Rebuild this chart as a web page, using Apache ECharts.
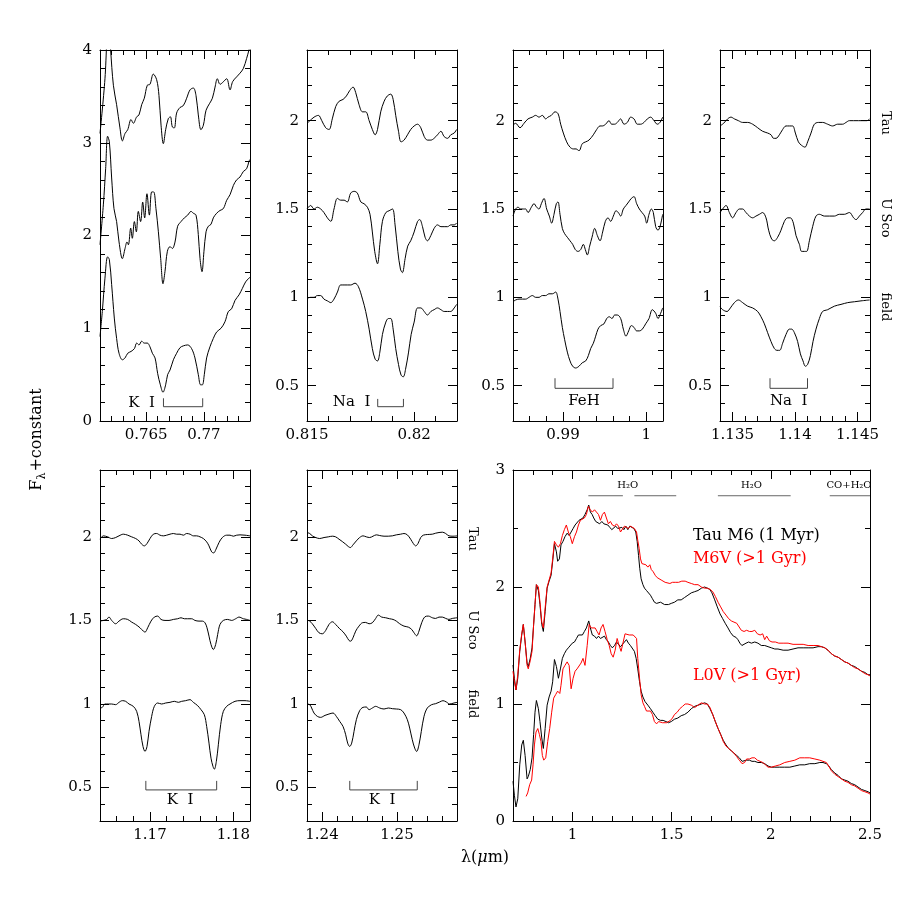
<!DOCTYPE html>
<html>
<head>
<meta charset="utf-8">
<title>M6 / L0 spectra</title>
<script src="https://cdn.jsdelivr.net/npm/echarts@6/dist/echarts.min.js"></script>
<style>
  html, body { margin: 0; padding: 0; background: #fff; }
  #chart { width: 919px; height: 919px; }
</style>
</head>
<body>
<div id="chart"></div>
<script>
// --- panel 1: K I 0.77 um ---
var p1XTicks = [0.765, 0.77];
var p1YTicks = [0, 1, 2, 3, 4];
var p1Tau = [[0.76100,3.10],[0.76143,3.69],[0.76172,4.35],[0.76192,4.0],[0.76216,3.62],[0.76244,3.41],[0.76273,3.16],[0.76294,3.02],[0.76317,3.10],[0.76340,3.14],[0.76369,3.25],[0.76389,3.21],[0.76418,3.28],[0.76438,3.30],[0.76461,3.41],[0.76484,3.48],[0.76510,3.62],[0.76533,3.63],[0.76562,3.74],[0.76591,3.68],[0.76611,3.51],[0.76629,3.19],[0.76649,2.99],[0.76669,3.14],[0.76692,3.26],[0.76710,3.28],[0.76727,3.17],[0.76744,3.16],[0.76764,3.32],[0.76793,3.38],[0.76822,3.40],[0.76851,3.48],[0.76880,3.57],[0.76909,3.59],[0.76932,3.51],[0.76952,3.30],[0.76975,3.14],[0.76996,3.19],[0.77019,3.35],[0.77048,3.42],[0.77074,3.48],[0.77097,3.60],[0.77117,3.69],[0.77140,3.63],[0.77163,3.65],[0.77198,3.69],[0.77227,3.57],[0.77250,3.66],[0.77284,3.71],[0.77313,3.75],[0.77342,3.80],[0.77371,3.91],[0.77391,4.0],[0.774,4.05]];
var p1USco = [[0.76100,1.90],[0.76129,2.33],[0.76149,2.72],[0.76166,3.07],[0.76181,3.01],[0.76201,2.62],[0.76221,2.29],[0.76244,2.15],[0.76265,1.93],[0.76294,1.75],[0.76317,1.86],[0.76334,1.93],[0.76346,1.90],[0.76366,2.08],[0.76380,1.97],[0.76398,2.15],[0.76415,2.04],[0.76432,2.26],[0.76452,2.15],[0.76470,2.36],[0.76487,2.19],[0.76507,2.45],[0.76528,2.22],[0.76548,2.47],[0.76565,2.47],[0.76585,2.29],[0.76606,2.04],[0.76626,1.75],[0.76646,1.48],[0.76663,1.61],[0.76684,1.83],[0.76707,1.88],[0.76727,1.86],[0.76750,1.93],[0.76773,2.10],[0.76802,2.15],[0.76831,2.19],[0.76860,2.22],[0.76889,2.26],[0.76909,2.24],[0.76932,2.22],[0.76952,2.01],[0.76967,1.75],[0.76984,1.61],[0.77001,1.83],[0.77019,2.04],[0.77039,2.10],[0.77062,2.12],[0.77082,2.19],[0.77111,2.24],[0.77140,2.27],[0.77169,2.29],[0.77198,2.38],[0.77227,2.44],[0.77256,2.54],[0.77284,2.60],[0.77313,2.63],[0.77342,2.69],[0.77371,2.72],[0.77391,2.80],[0.774,2.82]];
var p1Field = [[0.76100,0.91],[0.76120,1.18],[0.76143,1.54],[0.76166,1.77],[0.76181,1.74],[0.76201,1.47],[0.76224,1.11],[0.76244,0.89],[0.76265,0.73],[0.76294,0.66],[0.76317,0.68],[0.76340,0.73],[0.76369,0.75],[0.76398,0.78],[0.76418,0.84],[0.76438,0.82],[0.76461,0.86],[0.76484,0.84],[0.76510,0.84],[0.76533,0.80],[0.76554,0.73],[0.76577,0.68],[0.76600,0.51],[0.76623,0.39],[0.76646,0.31],[0.76669,0.39],[0.76686,0.50],[0.76707,0.55],[0.76736,0.66],[0.76764,0.73],[0.76793,0.79],[0.76822,0.81],[0.76860,0.82],[0.76894,0.78],[0.76923,0.68],[0.76952,0.50],[0.76972,0.39],[0.76987,0.39],[0.77004,0.50],[0.77024,0.68],[0.77053,0.80],[0.77082,0.89],[0.77111,0.96],[0.77149,1.00],[0.77183,1.07],[0.77212,1.18],[0.77241,1.21],[0.77270,1.30],[0.77305,1.36],[0.77334,1.43],[0.77362,1.50],[0.77391,1.54],[0.774,1.55]];

// --- panel 2: Na I 0.82 um ---
var p2XTicks = [0.815, 0.82];
var p2Tau = [[0.81500,1.985],[0.81512,1.998],[0.81533,2.02],[0.81553,2.03],[0.81569,2.0],[0.81587,1.96],[0.81603,1.95],[0.81618,2.01],[0.81634,2.08],[0.81650,2.11],[0.81668,2.12],[0.81684,2.14],[0.81699,2.17],[0.81715,2.19],[0.81727,2.16],[0.81743,2.09],[0.81759,2.05],[0.81774,2.05],[0.81790,2.0],[0.81805,1.95],[0.81818,1.92],[0.81829,1.95],[0.81844,2.05],[0.81860,2.11],[0.81875,2.14],[0.81891,2.15],[0.81902,2.12],[0.81914,2.03],[0.81927,1.94],[0.81939,1.88],[0.81953,1.89],[0.81969,1.92],[0.81984,1.95],[0.82000,1.97],[0.82016,1.98],[0.82031,1.96],[0.82047,1.91],[0.82062,1.89],[0.82078,1.89],[0.82093,1.90],[0.82109,1.92],[0.82125,1.94],[0.82140,1.91],[0.82156,1.90],[0.82171,1.92],[0.82187,1.93],[0.82198,1.95]];
var p2USco = [[0.81500,1.50],[0.81517,1.52],[0.81533,1.50],[0.81548,1.51],[0.81564,1.50],[0.81579,1.48],[0.81595,1.45],[0.81611,1.43],[0.81626,1.50],[0.81642,1.56],[0.81657,1.55],[0.81673,1.55],[0.81688,1.54],[0.81704,1.59],[0.81720,1.60],[0.81735,1.59],[0.81751,1.54],[0.81766,1.53],[0.81782,1.51],[0.81794,1.47],[0.81805,1.37],[0.81816,1.26],[0.81829,1.19],[0.81840,1.30],[0.81852,1.43],[0.81868,1.48],[0.81883,1.49],[0.81899,1.50],[0.81911,1.41],[0.81924,1.26],[0.81936,1.16],[0.81945,1.14],[0.81958,1.22],[0.81970,1.29],[0.81984,1.32],[0.82000,1.37],[0.82016,1.43],[0.82026,1.44],[0.82039,1.40],[0.82051,1.34],[0.82062,1.32],[0.82078,1.35],[0.82093,1.39],[0.82109,1.41],[0.82125,1.40],[0.82140,1.40],[0.82156,1.40],[0.82171,1.41],[0.82187,1.41],[0.82198,1.42]];
var p2Field = [[0.81500,0.994],[0.81517,1.0],[0.81533,1.0],[0.81548,1.01],[0.81564,1.01],[0.81579,0.99],[0.81595,0.98],[0.81611,0.97],[0.81626,0.99],[0.81642,1.03],[0.81657,1.07],[0.81673,1.07],[0.81688,1.07],[0.81704,1.07],[0.81724,1.08],[0.81740,1.06],[0.81759,0.99],[0.81774,0.92],[0.81790,0.82],[0.81805,0.71],[0.81818,0.65],[0.81829,0.64],[0.81840,0.69],[0.81852,0.79],[0.81868,0.86],[0.81880,0.88],[0.81891,0.88],[0.81902,0.82],[0.81914,0.71],[0.81927,0.62],[0.81939,0.56],[0.81949,0.55],[0.81961,0.60],[0.81974,0.69],[0.81986,0.79],[0.82000,0.86],[0.82016,0.94],[0.82031,0.94],[0.82047,0.92],[0.82062,0.90],[0.82078,0.92],[0.82093,0.93],[0.82109,0.94],[0.82125,0.93],[0.82140,0.92],[0.82156,0.92],[0.82171,0.92],[0.82187,0.94],[0.82198,0.96]];

// --- panel 3: FeH 0.99 um ---
var p3XTicks = [0.99, 1];
var p3Tau = [[0.98400,1.975],[0.98432,1.985],[0.98484,1.96],[0.98532,1.985],[0.98580,2.01],[0.98632,2.02],[0.98672,2.03],[0.98712,2.02],[0.98752,2.03],[0.98792,2.01],[0.98820,2.02],[0.98860,2.03],[0.98904,2.05],[0.98940,2.04],[0.98972,1.98],[0.99004,1.93],[0.99044,1.88],[0.99084,1.85],[0.99124,1.84],[0.99156,1.84],[0.99192,1.83],[0.99232,1.87],[0.99272,1.88],[0.99312,1.89],[0.99364,1.92],[0.99404,1.95],[0.99444,1.97],[0.99472,1.97],[0.99512,1.98],[0.99552,2.00],[0.99584,1.98],[0.99620,1.98],[0.99652,1.99],[0.99692,2.01],[0.99732,1.98],[0.99772,1.99],[0.99812,2.02],[0.99852,2.01],[0.99892,1.98],[0.99932,1.98],[0.99972,1.99],[1.00012,2.01],[1.00052,2.02],[1.00092,2.0],[1.00132,1.98],[1.00164,1.99],[1.00196,2.02]];
var p3USco = [[0.98400,1.46],[0.98432,1.50],[0.98460,1.51],[0.98492,1.50],[0.98524,1.50],[0.98552,1.50],[0.98580,1.48],[0.98620,1.51],[0.98652,1.53],[0.98684,1.51],[0.98712,1.50],[0.98740,1.53],[0.98772,1.56],[0.98804,1.50],[0.98836,1.46],[0.98864,1.42],[0.98892,1.47],[0.98920,1.53],[0.98940,1.54],[0.98964,1.47],[0.98992,1.39],[0.99020,1.36],[0.99052,1.34],[0.99084,1.32],[0.99116,1.30],[0.99148,1.27],[0.99180,1.26],[0.99212,1.27],[0.99244,1.30],[0.99268,1.27],[0.99292,1.24],[0.99320,1.29],[0.99348,1.34],[0.99380,1.39],[0.99412,1.35],[0.99444,1.32],[0.99476,1.37],[0.99508,1.43],[0.99540,1.45],[0.99572,1.43],[0.99604,1.46],[0.99636,1.49],[0.99664,1.48],[0.99692,1.46],[0.99724,1.50],[0.99756,1.52],[0.99788,1.54],[0.99820,1.56],[0.99852,1.57],[0.99884,1.53],[0.99916,1.50],[0.99948,1.48],[0.99980,1.46],[1.00004,1.42],[1.00032,1.47],[1.00060,1.50],[1.00084,1.48],[1.00112,1.40],[1.00140,1.38],[1.00164,1.40],[1.00196,1.47]];
var p3Field = [[0.98400,0.975],[0.98432,0.985],[0.98472,0.99],[0.98512,0.99],[0.98552,0.99],[0.98592,1.00],[0.98632,1.01],[0.98672,1.00],[0.98712,1.00],[0.98752,1.01],[0.98792,1.01],[0.98832,1.02],[0.98872,1.02],[0.98912,1.03],[0.98940,0.99],[0.98964,0.92],[0.98992,0.83],[0.99020,0.76],[0.99052,0.69],[0.99084,0.64],[0.99116,0.61],[0.99152,0.60],[0.99192,0.61],[0.99232,0.63],[0.99272,0.64],[0.99304,0.67],[0.99332,0.71],[0.99364,0.74],[0.99392,0.78],[0.99420,0.82],[0.99452,0.84],[0.99492,0.85],[0.99524,0.88],[0.99556,0.89],[0.99588,0.88],[0.99620,0.90],[0.99652,0.90],[0.99692,0.88],[0.99724,0.82],[0.99756,0.78],[0.99788,0.81],[0.99820,0.84],[0.99852,0.83],[0.99884,0.81],[0.99916,0.81],[0.99952,0.82],[0.99992,0.85],[1.00032,0.88],[1.00072,0.93],[1.00112,0.91],[1.00140,0.88],[1.00172,0.91],[1.00196,0.94]];

// --- panel 4: Na I 1.14 um ---
var p4XTicks = [1.135, 1.14, 1.145];
var p4Tau = [[1.13400,1.97],[1.13429,1.985],[1.13461,2.01],[1.13488,2.02],[1.13515,2.01],[1.13547,2.0],[1.13581,1.99],[1.13621,1.99],[1.13661,1.98],[1.13701,1.96],[1.13741,1.94],[1.13781,1.93],[1.13808,1.92],[1.13829,1.90],[1.13848,1.90],[1.13875,1.92],[1.13901,1.95],[1.13928,1.97],[1.13955,1.97],[1.13981,1.97],[1.14003,1.93],[1.14027,1.88],[1.14053,1.86],[1.14080,1.85],[1.14101,1.88],[1.14128,1.93],[1.14155,1.98],[1.14187,1.99],[1.14221,1.99],[1.14261,1.98],[1.14301,1.97],[1.14341,1.98],[1.14381,1.98],[1.14408,1.99],[1.14435,2.0],[1.14469,2.0],[1.14507,2.0],[1.14541,2.0],[1.14576,2.0],[1.14597,2.01]];
var p4USco = [[1.13400,1.48],[1.13421,1.50],[1.13448,1.52],[1.13475,1.48],[1.13501,1.45],[1.13528,1.48],[1.13555,1.50],[1.13581,1.50],[1.13608,1.48],[1.13635,1.46],[1.13661,1.45],[1.13688,1.46],[1.13715,1.47],[1.13741,1.48],[1.13768,1.45],[1.13789,1.38],[1.13813,1.33],[1.13835,1.32],[1.13861,1.34],[1.13888,1.38],[1.13915,1.43],[1.13941,1.45],[1.13963,1.45],[1.13987,1.42],[1.14008,1.35],[1.14035,1.30],[1.14053,1.26],[1.14075,1.26],[1.14093,1.26],[1.14115,1.32],[1.14141,1.40],[1.14168,1.46],[1.14195,1.47],[1.14235,1.46],[1.14275,1.46],[1.14315,1.46],[1.14355,1.47],[1.14395,1.47],[1.14435,1.48],[1.14469,1.45],[1.14488,1.44],[1.14515,1.46],[1.14541,1.48],[1.14568,1.50],[1.14597,1.50]];
var p4Field = [[1.13400,0.947],[1.13421,0.93],[1.13456,0.92],[1.13483,0.94],[1.13515,0.97],[1.13547,0.985],[1.13581,0.97],[1.13621,0.95],[1.13661,0.94],[1.13701,0.92],[1.13728,0.89],[1.13755,0.85],[1.13781,0.80],[1.13808,0.75],[1.13835,0.71],[1.13856,0.70],[1.13877,0.70],[1.13901,0.74],[1.13928,0.79],[1.13955,0.82],[1.13973,0.82],[1.13995,0.80],[1.14021,0.75],[1.14043,0.68],[1.14064,0.64],[1.14083,0.61],[1.14101,0.62],[1.14123,0.67],[1.14144,0.75],[1.14168,0.82],[1.14195,0.88],[1.14221,0.92],[1.14261,0.93],[1.14315,0.95],[1.14368,0.96],[1.14421,0.97],[1.14475,0.975],[1.14528,0.98],[1.14597,0.985]];

// --- panel 5: K I 1.17 um ---
var p5XTicks = [1.17, 1.18];
var p5Tau = [[1.16400,1.986],[1.16440,2.006],[1.16492,2.0],[1.16540,1.99],[1.16588,1.996],[1.16628,2.006],[1.16680,2.016],[1.16732,2.01],[1.16780,2.0],[1.16828,1.99],[1.16868,1.976],[1.16900,1.956],[1.16932,1.946],[1.16964,1.96],[1.17000,1.99],[1.17040,2.016],[1.17080,2.02],[1.17120,2.01],[1.17160,2.006],[1.17200,2.01],[1.17240,2.016],[1.17280,2.02],[1.17320,2.016],[1.17360,2.016],[1.17400,2.01],[1.17440,2.02],[1.17480,2.016],[1.17520,2.006],[1.17560,2.006],[1.17600,2.0],[1.17640,1.99],[1.17680,1.97],[1.17708,1.946],[1.17740,1.91],[1.17764,1.904],[1.17792,1.926],[1.17828,1.966],[1.17868,1.996],[1.17920,2.01],[1.17960,2.01],[1.18000,2.004],[1.18040,2.01],[1.18080,2.012],[1.18140,2.01],[1.18200,2.006]];
var p5USco = [[1.16400,1.496],[1.16440,1.50],[1.16480,1.506],[1.16508,1.52],[1.16540,1.50],[1.16588,1.48],[1.16628,1.496],[1.16680,1.51],[1.16732,1.506],[1.16780,1.49],[1.16828,1.476],[1.16880,1.456],[1.16920,1.436],[1.16940,1.43],[1.16972,1.456],[1.17012,1.496],[1.17052,1.52],[1.17092,1.526],[1.17132,1.506],[1.17180,1.50],[1.17228,1.50],[1.17280,1.506],[1.17332,1.51],[1.17372,1.516],[1.17412,1.51],[1.17452,1.51],[1.17500,1.51],[1.17540,1.50],[1.17588,1.496],[1.17628,1.496],[1.17660,1.486],[1.17684,1.456],[1.17708,1.406],[1.17732,1.356],[1.17760,1.326],[1.17788,1.356],[1.17812,1.416],[1.17840,1.476],[1.17880,1.50],[1.17932,1.506],[1.17980,1.50],[1.18028,1.51],[1.18068,1.52],[1.18120,1.51],[1.18160,1.506],[1.18200,1.50]];
var p5Field = [[1.16400,0.976],[1.16428,0.98],[1.16460,1.0],[1.16500,1.0],[1.16540,1.0],[1.16588,0.996],[1.16628,1.01],[1.16668,1.02],[1.16708,1.016],[1.16748,1.0],[1.16800,0.986],[1.16840,0.956],[1.16868,0.896],[1.16892,0.816],[1.16916,0.746],[1.16940,0.716],[1.16964,0.746],[1.16988,0.836],[1.17020,0.926],[1.17052,0.986],[1.17092,1.006],[1.17140,1.0],[1.17188,1.006],[1.17240,1.01],[1.17292,1.016],[1.17340,1.01],[1.17380,1.016],[1.17428,1.02],[1.17480,1.026],[1.17520,1.01],[1.17572,0.99],[1.17612,0.966],[1.17652,0.936],[1.17680,0.866],[1.17708,0.766],[1.17732,0.676],[1.17756,0.626],[1.17772,0.61],[1.17796,0.656],[1.17820,0.756],[1.17848,0.876],[1.17880,0.956],[1.17920,0.986],[1.17960,1.0],[1.18020,1.016],[1.18080,1.02],[1.18140,1.02],[1.18200,1.016]];

// --- panel 6: K I 1.25 um ---
var p6XTicks = [1.24, 1.25];
var p6Tau = [[1.23800,2.026],[1.23836,2.02],[1.23871,2.006],[1.23916,1.996],[1.23969,1.99],[1.24027,1.996],[1.24084,2.0],[1.24138,2.004],[1.24182,2.0],[1.24227,1.986],[1.24271,1.972],[1.24316,1.956],[1.24351,1.942],[1.24378,1.936],[1.24413,1.952],[1.24458,1.976],[1.24502,1.996],[1.24547,2.006],[1.24591,2.0],[1.24636,1.996],[1.24680,2.004],[1.24724,2.012],[1.24769,2.008],[1.24827,2.004],[1.24884,2.004],[1.24938,2.006],[1.24991,2.012],[1.25049,2.016],[1.25093,2.02],[1.25138,2.012],[1.25182,1.986],[1.25218,1.96],[1.25249,1.946],[1.25280,1.96],[1.25316,1.996],[1.25351,2.01],[1.25404,2.014],[1.25471,2.016],[1.25516,2.022],[1.25560,2.026],[1.25604,2.028],[1.25649,2.02],[1.25693,2.006],[1.25747,2.004],[1.25804,2.006]];
var p6USco = [[1.23800,1.502],[1.23836,1.496],[1.23871,1.48],[1.23916,1.452],[1.23960,1.426],[1.24004,1.42],[1.24049,1.44],[1.24093,1.476],[1.24138,1.492],[1.24182,1.476],[1.24236,1.45],[1.24280,1.432],[1.24324,1.406],[1.24360,1.38],[1.24382,1.376],[1.24413,1.396],[1.24449,1.436],[1.24493,1.466],[1.24538,1.486],[1.24582,1.488],[1.24627,1.48],[1.24671,1.486],[1.24716,1.512],[1.24751,1.532],[1.24796,1.52],[1.24849,1.516],[1.24902,1.51],[1.24947,1.506],[1.24991,1.496],[1.25036,1.48],[1.25093,1.466],[1.25151,1.46],[1.25196,1.446],[1.25227,1.426],[1.25262,1.408],[1.25293,1.436],[1.25329,1.486],[1.25373,1.522],[1.25418,1.526],[1.25471,1.516],[1.25516,1.512],[1.25560,1.52],[1.25604,1.52],[1.25649,1.512],[1.25693,1.506],[1.25738,1.512],[1.25804,1.516]];
var p6Field = [[1.23800,1.0],[1.23836,0.996],[1.23862,0.976],[1.23893,0.946],[1.23938,0.926],[1.23982,0.92],[1.24040,0.932],[1.24093,0.94],[1.24147,0.946],[1.24191,0.926],[1.24236,0.896],[1.24280,0.866],[1.24316,0.816],[1.24342,0.766],[1.24369,0.746],[1.24396,0.766],[1.24427,0.836],[1.24458,0.906],[1.24502,0.96],[1.24547,0.98],[1.24591,0.982],[1.24627,0.966],[1.24671,0.976],[1.24716,0.986],[1.24769,0.976],[1.24827,0.97],[1.24884,0.976],[1.24938,0.972],[1.24991,0.97],[1.25049,0.966],[1.25093,0.946],[1.25138,0.906],[1.25169,0.856],[1.25204,0.786],[1.25236,0.736],[1.25262,0.716],[1.25293,0.756],[1.25324,0.836],[1.25360,0.926],[1.25404,0.976],[1.25462,0.996],[1.25516,1.002],[1.25569,1.012],[1.25613,1.02],[1.25658,1.012],[1.25702,1.0],[1.25760,1.006],[1.25804,1.01]];

// --- panel 7: full 0.7-2.5 um spectra ---
var p7XTicks = [1, 1.5, 2, 2.5];
var p7YTicks = [0, 1, 2, 3];
var tauM6 = [[0.700,1.333],[0.707,1.22],[0.715,1.12],[0.724,1.22],[0.734,1.45],[0.744,1.59],[0.752,1.68],[0.761,1.53],[0.771,1.35],[0.777,1.32],[0.787,1.39],[0.796,1.48],[0.804,1.68],[0.811,1.85],[0.818,2.02],[0.828,1.97],[0.836,1.85],[0.845,1.68],[0.853,1.62],[0.862,1.79],[0.872,1.99],[0.882,2.05],[0.892,2.10],[0.900,2.22],[0.909,2.37],[0.919,2.30],[0.925,2.22],[0.934,2.24],[0.942,2.36],[0.952,2.39],[0.962,2.43],[0.973,2.46],[0.983,2.44],[0.993,2.47],[1.003,2.50],[1.013,2.53],[1.023,2.54],[1.033,2.57],[1.043,2.58],[1.053,2.59],[1.063,2.62],[1.074,2.66],[1.082,2.70],[1.090,2.64],[1.099,2.62],[1.107,2.59],[1.117,2.56],[1.127,2.56],[1.137,2.54],[1.148,2.56],[1.158,2.54],[1.168,2.54],[1.178,2.53],[1.188,2.51],[1.198,2.49],[1.208,2.50],[1.218,2.52],[1.228,2.50],[1.238,2.50],[1.249,2.51],[1.259,2.49],[1.269,2.52],[1.279,2.49],[1.289,2.52],[1.299,2.53],[1.309,2.50],[1.319,2.47],[1.326,2.39],[1.333,2.27],[1.339,2.16],[1.346,2.07],[1.355,2.02],[1.363,1.99],[1.373,1.97],[1.383,1.96],[1.393,1.93],[1.403,1.90],[1.413,1.87],[1.424,1.86],[1.434,1.87],[1.444,1.87],[1.454,1.86],[1.464,1.85],[1.474,1.84],[1.484,1.85],[1.498,1.86],[1.514,1.87],[1.531,1.89],[1.548,1.89],[1.565,1.91],[1.582,1.93],[1.599,1.95],[1.616,1.96],[1.633,1.97],[1.650,1.99],[1.666,2.00],[1.680,1.99],[1.692,1.98],[1.703,1.95],[1.717,1.89],[1.730,1.83],[1.744,1.77],[1.757,1.73],[1.770,1.69],[1.784,1.65],[1.797,1.61],[1.811,1.58],[1.824,1.57],[1.834,1.55],[1.844,1.52],[1.854,1.50],[1.864,1.49],[1.875,1.52],[1.888,1.53],[1.902,1.52],[1.919,1.53],[1.935,1.52],[1.952,1.50],[1.969,1.50],[1.986,1.49],[2.003,1.48],[2.020,1.47],[2.036,1.47],[2.062,1.46],[2.087,1.46],[2.112,1.47],[2.137,1.48],[2.163,1.48],[2.188,1.48],[2.213,1.48],[2.238,1.49],[2.255,1.49],[2.272,1.48],[2.288,1.46],[2.305,1.43],[2.322,1.41],[2.339,1.40],[2.356,1.38],[2.373,1.36],[2.389,1.35],[2.406,1.33],[2.423,1.32],[2.440,1.30],[2.457,1.28],[2.474,1.27],[2.490,1.25],[2.5,1.25]];
var m6V = [[0.700,1.28],[0.707,1.19],[0.715,1.12],[0.724,1.25],[0.734,1.46],[0.744,1.60],[0.752,1.68],[0.761,1.53],[0.771,1.33],[0.777,1.30],[0.787,1.37],[0.796,1.45],[0.804,1.68],[0.811,1.85],[0.818,2.02],[0.828,2.0],[0.836,1.87],[0.845,1.70],[0.853,1.65],[0.862,1.82],[0.872,2.0],[0.882,2.06],[0.892,2.12],[0.900,2.24],[0.909,2.39],[0.919,2.36],[0.929,2.34],[0.939,2.37],[0.949,2.44],[0.959,2.49],[0.969,2.53],[0.979,2.47],[0.989,2.43],[0.999,2.37],[1.010,2.43],[1.020,2.47],[1.030,2.53],[1.040,2.57],[1.050,2.56],[1.060,2.59],[1.070,2.62],[1.080,2.69],[1.090,2.66],[1.100,2.64],[1.111,2.66],[1.121,2.64],[1.131,2.62],[1.141,2.57],[1.151,2.62],[1.161,2.64],[1.171,2.59],[1.181,2.54],[1.191,2.56],[1.201,2.53],[1.212,2.52],[1.222,2.54],[1.232,2.52],[1.242,2.47],[1.252,2.47],[1.262,2.52],[1.272,2.53],[1.282,2.50],[1.292,2.52],[1.302,2.53],[1.312,2.50],[1.323,2.47],[1.329,2.40],[1.336,2.33],[1.343,2.24],[1.350,2.20],[1.360,2.20],[1.370,2.19],[1.380,2.17],[1.390,2.19],[1.397,2.15],[1.407,2.13],[1.417,2.10],[1.427,2.08],[1.437,2.07],[1.447,2.06],[1.457,2.05],[1.467,2.04],[1.477,2.03],[1.491,2.03],[1.504,2.04],[1.518,2.04],[1.535,2.04],[1.551,2.05],[1.568,2.05],[1.582,2.04],[1.599,2.03],[1.616,2.02],[1.633,2.02],[1.650,2.0],[1.666,1.99],[1.680,1.99],[1.693,1.98],[1.707,1.96],[1.720,1.92],[1.734,1.87],[1.747,1.83],[1.760,1.79],[1.774,1.76],[1.787,1.73],[1.801,1.71],[1.814,1.70],[1.828,1.69],[1.838,1.68],[1.851,1.63],[1.865,1.62],[1.878,1.63],[1.892,1.62],[1.905,1.62],[1.919,1.63],[1.932,1.60],[1.946,1.59],[1.959,1.60],[1.969,1.55],[1.979,1.58],[1.993,1.54],[2.006,1.53],[2.023,1.53],[2.040,1.52],[2.062,1.52],[2.087,1.52],[2.112,1.51],[2.137,1.51],[2.163,1.51],[2.188,1.50],[2.213,1.50],[2.238,1.50],[2.255,1.49],[2.272,1.48],[2.288,1.46],[2.305,1.43],[2.322,1.41],[2.339,1.40],[2.356,1.38],[2.373,1.36],[2.389,1.35],[2.406,1.33],[2.423,1.31],[2.440,1.30],[2.457,1.28],[2.474,1.26],[2.490,1.25],[2.5,1.24]];
var tauL0 = [[0.700,0.34],[0.707,0.22],[0.715,0.12],[0.724,0.19],[0.734,0.48],[0.744,0.65],[0.752,0.69],[0.761,0.56],[0.771,0.36],[0.777,0.38],[0.787,0.44],[0.796,0.54],[0.804,0.74],[0.811,0.93],[0.818,1.03],[0.828,0.96],[0.836,0.85],[0.845,0.71],[0.853,0.62],[0.862,0.79],[0.872,0.99],[0.882,1.06],[0.892,1.11],[0.900,1.19],[0.909,1.38],[0.919,1.32],[0.929,1.22],[0.939,1.30],[0.949,1.39],[0.959,1.43],[0.969,1.46],[0.979,1.48],[0.989,1.49],[0.999,1.52],[1.010,1.53],[1.020,1.56],[1.030,1.59],[1.040,1.60],[1.050,1.59],[1.060,1.62],[1.070,1.65],[1.082,1.71],[1.090,1.65],[1.100,1.59],[1.111,1.58],[1.121,1.56],[1.131,1.58],[1.141,1.56],[1.151,1.56],[1.161,1.58],[1.171,1.55],[1.181,1.53],[1.191,1.50],[1.201,1.48],[1.212,1.50],[1.222,1.53],[1.232,1.52],[1.242,1.49],[1.252,1.50],[1.262,1.53],[1.272,1.55],[1.282,1.52],[1.292,1.50],[1.302,1.49],[1.312,1.45],[1.321,1.39],[1.329,1.30],[1.338,1.19],[1.346,1.11],[1.355,1.06],[1.366,1.02],[1.380,0.99],[1.393,0.96],[1.405,0.93],[1.417,0.90],[1.430,0.87],[1.444,0.86],[1.457,0.86],[1.471,0.85],[1.484,0.84],[1.498,0.85],[1.514,0.87],[1.531,0.88],[1.548,0.90],[1.565,0.91],[1.582,0.93],[1.599,0.96],[1.616,0.98],[1.633,0.99],[1.650,1.0],[1.666,1.01],[1.680,1.0],[1.693,0.96],[1.707,0.91],[1.720,0.85],[1.734,0.79],[1.747,0.74],[1.760,0.69],[1.774,0.65],[1.787,0.62],[1.801,0.60],[1.814,0.58],[1.828,0.56],[1.841,0.54],[1.855,0.51],[1.865,0.51],[1.878,0.52],[1.892,0.52],[1.905,0.51],[1.919,0.51],[1.935,0.50],[1.952,0.50],[1.969,0.49],[1.986,0.47],[2.003,0.46],[2.020,0.46],[2.045,0.46],[2.070,0.46],[2.096,0.46],[2.121,0.47],[2.146,0.48],[2.171,0.48],[2.196,0.49],[2.222,0.49],[2.247,0.50],[2.263,0.50],[2.280,0.49],[2.292,0.47],[2.305,0.44],[2.322,0.41],[2.339,0.39],[2.356,0.36],[2.373,0.35],[2.389,0.34],[2.406,0.32],[2.423,0.31],[2.440,0.29],[2.457,0.27],[2.474,0.26],[2.490,0.25],[2.5,0.24]];
var l0V = [[0.766,0.21],[0.774,0.24],[0.784,0.31],[0.794,0.35],[0.801,0.48],[0.808,0.65],[0.816,0.76],[0.825,0.79],[0.833,0.74],[0.841,0.68],[0.848,0.56],[0.855,0.52],[0.865,0.54],[0.875,0.68],[0.885,0.79],[0.895,0.93],[0.905,1.05],[0.915,1.08],[0.925,1.11],[0.936,1.09],[0.942,1.16],[0.952,1.30],[0.962,1.33],[0.973,1.36],[0.983,1.33],[0.993,1.13],[1.003,1.22],[1.013,1.28],[1.023,1.30],[1.033,1.29],[1.043,1.35],[1.053,1.39],[1.063,1.33],[1.074,1.50],[1.084,1.68],[1.094,1.65],[1.104,1.66],[1.114,1.65],[1.124,1.62],[1.134,1.59],[1.144,1.65],[1.154,1.68],[1.164,1.62],[1.175,1.55],[1.185,1.50],[1.195,1.43],[1.205,1.40],[1.215,1.46],[1.225,1.56],[1.235,1.50],[1.245,1.45],[1.255,1.46],[1.265,1.60],[1.275,1.59],[1.286,1.59],[1.296,1.59],[1.306,1.59],[1.316,1.59],[1.323,1.56],[1.329,1.39],[1.338,1.22],[1.346,1.08],[1.355,1.01],[1.363,0.98],[1.373,0.94],[1.383,0.93],[1.393,0.94],[1.403,0.91],[1.413,0.85],[1.424,0.83],[1.434,0.85],[1.444,0.85],[1.454,0.84],[1.464,0.85],[1.474,0.84],[1.484,0.85],[1.494,0.86],[1.504,0.88],[1.514,0.91],[1.528,0.93],[1.541,0.96],[1.555,0.98],[1.568,1.0],[1.582,1.0],[1.599,0.99],[1.616,0.97],[1.633,0.99],[1.650,1.01],[1.666,1.0],[1.680,1.0],[1.693,0.97],[1.707,0.91],[1.720,0.85],[1.734,0.79],[1.747,0.74],[1.760,0.68],[1.774,0.64],[1.787,0.62],[1.801,0.60],[1.814,0.58],[1.828,0.55],[1.841,0.52],[1.855,0.49],[1.868,0.50],[1.878,0.53],[1.892,0.53],[1.905,0.54],[1.919,0.54],[1.932,0.52],[1.946,0.51],[1.959,0.50],[1.973,0.48],[1.986,0.46],[2.003,0.46],[2.023,0.47],[2.045,0.48],[2.070,0.50],[2.096,0.51],[2.121,0.52],[2.146,0.54],[2.171,0.54],[2.196,0.54],[2.222,0.53],[2.247,0.52],[2.263,0.51],[2.280,0.50],[2.292,0.47],[2.305,0.43],[2.322,0.40],[2.339,0.38],[2.356,0.36],[2.373,0.34],[2.389,0.33],[2.406,0.31],[2.423,0.30],[2.440,0.28],[2.457,0.26],[2.474,0.25],[2.490,0.24],[2.5,0.23]];

var midYTicks = [0.5, 1, 1.5, 2];
// line markers: [x1, x2, base, top]
var p1Band = [0.7665, 0.7699, 0.154, 0.245];
var p2Band = [0.8183, 0.8195, 0.381, 0.425];
var p3Band = [0.98904, 0.996, 0.485, 0.542];
var p4Band = [1.138, 1.141, 0.485, 0.542];
var p5Band = [1.1695, 1.178, 0.486, 0.54];
var p6Band = [1.2437, 1.2527, 0.486, 0.54];
var h2oBands = [[1.08, 1.254], [1.312, 1.523], [1.733, 2.10], [2.297, 2.5]];
var h2oLevel = 2.78;

(function () {
  var FONT = 'DejaVu Serif';
  var INK = '#000';
  var RED = '#ff0000';

  function steps(a, b, s) {
    var out = [];
    for (var k = 0; a + k * s <= b + s * 1e-3; k++) out.push(Math.round((a + k * s) * 1e6) / 1e6);
    return out;
  }
  function fmt(v) { return String(+(+v).toFixed(4)); }

  var panels = [
    { rect: [100, 50, 150, 371], xr: [0.761, 0.774], yr: [0, 4], xMaj: p1XTicks, xStep: 0.001, yMaj: p1YTicks, yStep: 0.2,
      curves: [[p1Tau, INK], [p1USco, INK], [p1Field, INK]], band: p1Band, tag: ['K  I', 0.7646, 0.195] },
    { rect: [307, 50, 150, 371], xr: [0.815, 0.822], yr: [0.3, 2.4], xMaj: p2XTicks, xStep: 0.001, yMaj: midYTicks, yStep: 0.1,
      curves: [[p2Tau, INK], [p2USco, INK], [p2Field, INK]], band: p2Band, tag: ['Na  I', 0.81708, 0.405] },
    { rect: [513, 50, 150, 371], xr: [0.984, 1.002], yr: [0.3, 2.4], xMaj: p3XTicks, xStep: 0.002, yMaj: midYTicks, yStep: 0.1,
      curves: [[p3Tau, INK], [p3USco, INK], [p3Field, INK]], band: p3Band, tag: ['FeH', 0.99252, 0.415] },
    { rect: [720, 50, 150, 371], xr: [1.134, 1.146], yr: [0.3, 2.4], xMaj: p4XTicks, xStep: 0.001, yMaj: midYTicks, yStep: 0.1,
      curves: [[p4Tau, INK], [p4USco, INK], [p4Field, INK]], band: p4Band, tag: ['Na  I', 1.1395, 0.415] },
    { rect: [100, 470, 150, 351], xr: [1.164, 1.182], yr: [0.3, 2.4], xMaj: p5XTicks, xStep: 0.002, yMaj: midYTicks, yStep: 0.1,
      curves: [[p5Tau, INK], [p5USco, INK], [p5Field, INK]], band: p5Band, tag: ['K  I', 1.1736, 0.425] },
    { rect: [307, 470, 150, 351], xr: [1.238, 1.258], yr: [0.3, 2.4], xMaj: p6XTicks, xStep: 0.002, yMaj: midYTicks, yStep: 0.1,
      curves: [[p6Tau, INK], [p6USco, INK], [p6Field, INK]], band: p6Band, tag: ['K  I', 1.248, 0.425] },
    { rect: [513, 470, 357, 351], xr: [0.7, 2.5], yr: [0, 3], xMaj: p7XTicks, xStep: 0.1, yMaj: p7YTicks, yStep: 0.5,
      curves: [[tauM6, INK], [m6V, RED], [tauL0, INK], [l0V, RED]], flat: true }
  ];

  function axis(dim, gi, pos, range, ticks, len, labels, line) {
    return {
      type: 'value', gridIndex: gi, position: pos, min: range[0], max: range[1],
      axisLine: { show: line, onZero: false, lineStyle: { color: INK, width: 1 } },
      axisTick: { show: true, inside: true, length: len, customValues: ticks, lineStyle: { color: INK, width: 1 } },
      axisLabel: { show: labels, customValues: ticks, margin: dim === 'x' ? 7 : 8, color: INK,
        fontFamily: FONT, fontSize: 15, formatter: fmt },
      splitLine: { show: false }
    };
  }

  var grids = [], xAxes = [], yAxes = [], series = [];
  panels.forEach(function (p, i) {
    grids.push({ left: p.rect[0], top: p.rect[1], width: p.rect[2], height: p.rect[3], containLabel: false, outerBoundsMode: 'none' });
    var xMin = steps(p.xr[0], p.xr[1], p.xStep), yMin = steps(p.yr[0], p.yr[1], p.yStep);
    xAxes.push(axis('x', i, 'bottom', p.xr, p.xMaj, 9, true, true));
    xAxes.push(axis('x', i, 'top', p.xr, p.xMaj, 9, false, true));
    xAxes.push(axis('x', i, 'bottom', p.xr, xMin, 5, false, false));
    xAxes.push(axis('x', i, 'top', p.xr, xMin, 5, false, false));
    yAxes.push(axis('y', i, 'left', p.yr, p.yMaj, 9, true, true));
    yAxes.push(axis('y', i, 'right', p.yr, p.yMaj, 9, false, true));
    yAxes.push(axis('y', i, 'left', p.yr, yMin, 5, false, false));
    yAxes.push(axis('y', i, 'right', p.yr, yMin, 5, false, false));

    p.curves.forEach(function (c) {
      series.push({
        type: 'line', xAxisIndex: 4 * i, yAxisIndex: 4 * i, data: c[0],
        showSymbol: false, symbol: 'none', smooth: p.flat ? false : 0.35, silent: true, clip: true,
        lineStyle: { color: c[1], width: 1 }
      });
    });
    if (p.band) {
      var b = p.band;
      series.push({
        type: 'line', xAxisIndex: 4 * i, yAxisIndex: 4 * i, silent: true, showSymbol: false, symbol: 'none',
        data: [[b[0], b[3]], [b[0], b[2]], [b[1], b[2]], [b[1], b[3]]],
        lineStyle: { color: '#444', width: 1 }
      });
    }
  });
  h2oBands.forEach(function (h) {
    series.push({
      type: 'line', xAxisIndex: 24, yAxisIndex: 24, silent: true, showSymbol: false, symbol: 'none',
      data: [[h[0], h2oLevel], [h[1], h2oLevel]], lineStyle: { color: '#666', width: 1 }
    });
  });

  var chart = echarts.init(document.getElementById('chart'));
  chart.setOption({
    animation: false,
    backgroundColor: '#fff',
    textStyle: { fontFamily: FONT },
    grid: grids, xAxis: xAxes, yAxis: yAxes, series: series
  });

  function px(i, x, y) { return chart.convertToPixel({ xAxisIndex: 4 * i, yAxisIndex: 4 * i }, [x, y]); }
  function txt(pos, text, size, color, align, rot) {
    return { type: 'text', x: pos[0], y: pos[1], rotation: rot || 0, silent: true,
      style: { text: text, fill: color || INK, fontFamily: FONT, fontSize: size, textAlign: align || 'center', textVerticalAlign: 'middle' } };
  }
  var ctx = document.createElement('canvas').getContext('2d');
  function width(s, size) { ctx.font = size + 'px "' + FONT + '"'; return ctx.measureText(s).width; }

  var g = [];
  panels.forEach(function (p, i) {
    if (p.tag) g.push(txt(px(i, p.tag[1], p.tag[2]), p.tag[0], 15));
  });
  // absorption band labels
  g.push(txt(px(6, 1.279, 2.87), 'H\u2082O', 10));
  g.push(txt(px(6, 1.902, 2.87), 'H\u2082O', 10));
  g.push(txt(px(6, 2.394, 2.87), 'CO+H\u2082O', 10));
  // spectra legend
  g.push(txt(px(6, 1.607, 2.436), 'Tau M6 (1 Myr)', 16, INK, 'left'));
  g.push(txt(px(6, 1.607, 2.239), 'M6V (>1 Gyr)', 16, RED, 'left'));
  g.push(txt(px(6, 1.607, 1.239), 'L0V (>1 Gyr)', 16, RED, 'left'));
  // row labels
  [['Tau', 885, 123], ['U Sco', 885, 218], ['field', 885, 307], ['Tau', 472, 539], ['U Sco', 472, 630], ['field', 472, 704]]
    .forEach(function (s) { g.push(txt([s[1], s[2]], s[0], 13, INK, 'center', -Math.PI / 2)); });

  // y title: F_lambda +constant, rotated
  var wF = width('F', 16), wL = width('\u03bb', 11), wC = width('+constant', 16);
  var x0 = -(wF + wL + wC) / 2;
  g.push({
    type: 'group', x: 37, y: 440, rotation: Math.PI / 2, silent: true,
    children: [
      txt([x0, 0], 'F', 16, INK, 'left'),
      txt([x0 + wF, 5], '\u03bb', 11, INK, 'left'),
      txt([x0 + wF + wL + 1, 0], '+constant', 16, INK, 'left')
    ]
  });
  // x title: lambda(mu m)
  var wA = width('\u03bb(', 16), wM = width('\u03bc', 16), wB = width('m)', 16);
  var x1 = 485 - (wA + wM + wB) / 2;
  g.push(txt([x1, 858], '\u03bb(', 16, INK, 'left'));
  g.push({ type: 'text', x: x1 + wA, y: 858, silent: true,
    style: { text: '\u03bc', fill: INK, fontFamily: FONT, fontSize: 16, fontStyle: 'italic', textAlign: 'left', textVerticalAlign: 'middle' } });
  g.push(txt([x1 + wA + wM, 858], 'm)', 16, INK, 'left'));
  chart.setOption({ graphic: g });
})();
</script>
</body>
</html>
